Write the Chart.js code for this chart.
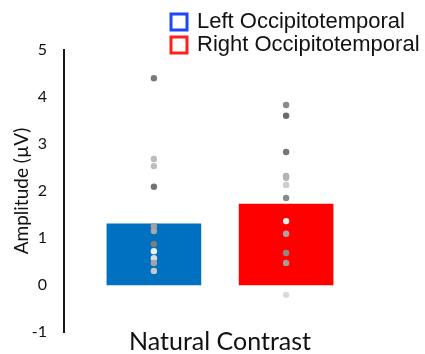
<!DOCTYPE html>
<html>
<head>
<meta charset="utf-8">
<script src="https://cdn.jsdelivr.net/npm/chart.js@4/dist/chart.umd.min.js"></script>
<style>
  html, body { margin: 0; padding: 0; background: #fff; }
  #wrap { width: 425px; height: 354px; }
</style>
</head>
<body>
<div id="wrap"><canvas id="c" width="425" height="354"></canvas></div>
<script>
// Condition and hemispheres
const condition = 'Natural Contrast';
const hemispheres = ['Left Occipitotemporal', 'Right Occipitotemporal'];

// Group mean amplitude (µV) per hemisphere
const meanAmplitude = [1.30, 1.72];

// Individual participant amplitudes (µV)
const leftSubjects  = [4.40, 2.68, 2.53, 2.09, 1.25, 1.15, 0.87, 0.72, 0.57, 0.47, 0.30];
const rightSubjects = [3.83, 3.60, 2.83, 2.32, 2.28, 2.13, 1.85, 1.36, 1.09, 0.68, 0.47, -0.21];

// Y axis range and ticks
const yTicks = [-1, 0, 1, 2, 3, 4, 5];

// Styling
const barColors = ['#0070C0', '#FF0000'];
const legendColors = ['#1f44ff', '#ff1f1f'];
const leftDotColors  = ['#7a7a7a', '#bdbdbd', '#bdbdbd', '#747474', '#a0a0a0', '#a8a8a8', '#7e7e7e', '#f0f0f0', '#dcdcdc', '#a4a4a4', '#c8c8c8'];
const rightDotColors = ['#8a8a8a', '#6a6a6a', '#767676', '#b0b0b0', '#b4b4b4', '#cccccc', '#8a8a8a', '#e8eef0', '#a0a8aa', '#848c8c', '#98a0a0', '#dadada'];

const subjects = [leftSubjects, rightSubjects];
const dotColors = [leftDotColors, rightDotColors];

const barSets = hemispheres.map((name, i) => ({
  type: 'bar',
  label: name,
  data: [{ x: i, y: meanAmplitude[i] }],
  backgroundColor: barColors[i],
  borderWidth: 0,
  barThickness: 94,
  grouped: false,
  order: 2
}));

const dotSets = hemispheres.map((name, i) => ({
  type: 'scatter',
  label: name + ' participants',
  data: subjects[i].map(v => ({ x: i, y: v })),
  pointRadius: 3.2,
  pointBorderWidth: 0,
  pointBackgroundColor: dotColors[i],
  showLine: false,
  order: 1
}));

// Legend drawn in the upper-right corner, overlapping the plot margin
const cornerLegend = {
  id: 'cornerLegend',
  afterDraw(chart, args, opts) {
    const ctx = chart.ctx;
    ctx.save();
    ctx.font = '22px "Liberation Sans", Arial, sans-serif';
    ctx.textBaseline = 'middle';
    ctx.textAlign = 'left';
    hemispheres.forEach((name, i) => {
      const y = opts.top + i * opts.rowHeight;
      ctx.fillStyle = '#ffffff';
      ctx.fillRect(opts.left, y - opts.box / 2, opts.box, opts.box);
      ctx.lineWidth = 3;
      ctx.strokeStyle = legendColors[i];
      ctx.strokeRect(opts.left, y - opts.box / 2, opts.box, opts.box);
      ctx.fillStyle = '#111111';
      ctx.fillText(name, opts.left + opts.box + 10, y);
    });
    ctx.restore();
  }
};

new Chart(document.getElementById('c'), {
  data: { datasets: [...barSets, ...dotSets] },
  options: {
    responsive: false,
    animation: false,
    layout: { padding: { left: 8, top: 50, right: 49, bottom: 0 } },
    plugins: {
      legend: { display: false },
      tooltip: { enabled: false },
      cornerLegend: { left: 171, top: 22, rowHeight: 23, box: 16 }
    },
    scales: {
      x: {
        type: 'linear',
        offset: false,
        min: -0.68,
        max: 1.68,
        grid: { display: false, drawTicks: false },
        border: { display: false },
        ticks: { display: false },
        title: {
          display: true,
          text: condition,
          color: '#111111',
          font: { family: 'Lato, "Open Sans", sans-serif', size: 25, lineHeight: 1 },
          padding: 0
        },
        afterFit(scale) { scale.height = 22; }
      },
      y: {
        min: yTicks[0],
        max: yTicks[yTicks.length - 1],
        afterBuildTicks(scale) { scale.ticks = yTicks.map(v => ({ value: v })); },
        grid: { display: false, drawTicks: true, tickLength: 14 },
        border: { display: true, color: '#1a1a1a', width: 2 },
        ticks: {
          color: '#111111',
          padding: 3,
          font: { family: 'Lato, "Open Sans", sans-serif', size: 16 }
        },
        title: {
          display: true,
          text: 'Amplitude (µV)',
          color: '#111111',
          font: { family: 'Lato, "Open Sans", sans-serif', size: 19, lineHeight: 1.2 },
          padding: { top: 2, bottom: 0 }
        },
        afterFit(scale) { scale.width = 56; }
      }
    }
  },
  plugins: [cornerLegend]
});
</script>
</body>
</html>
